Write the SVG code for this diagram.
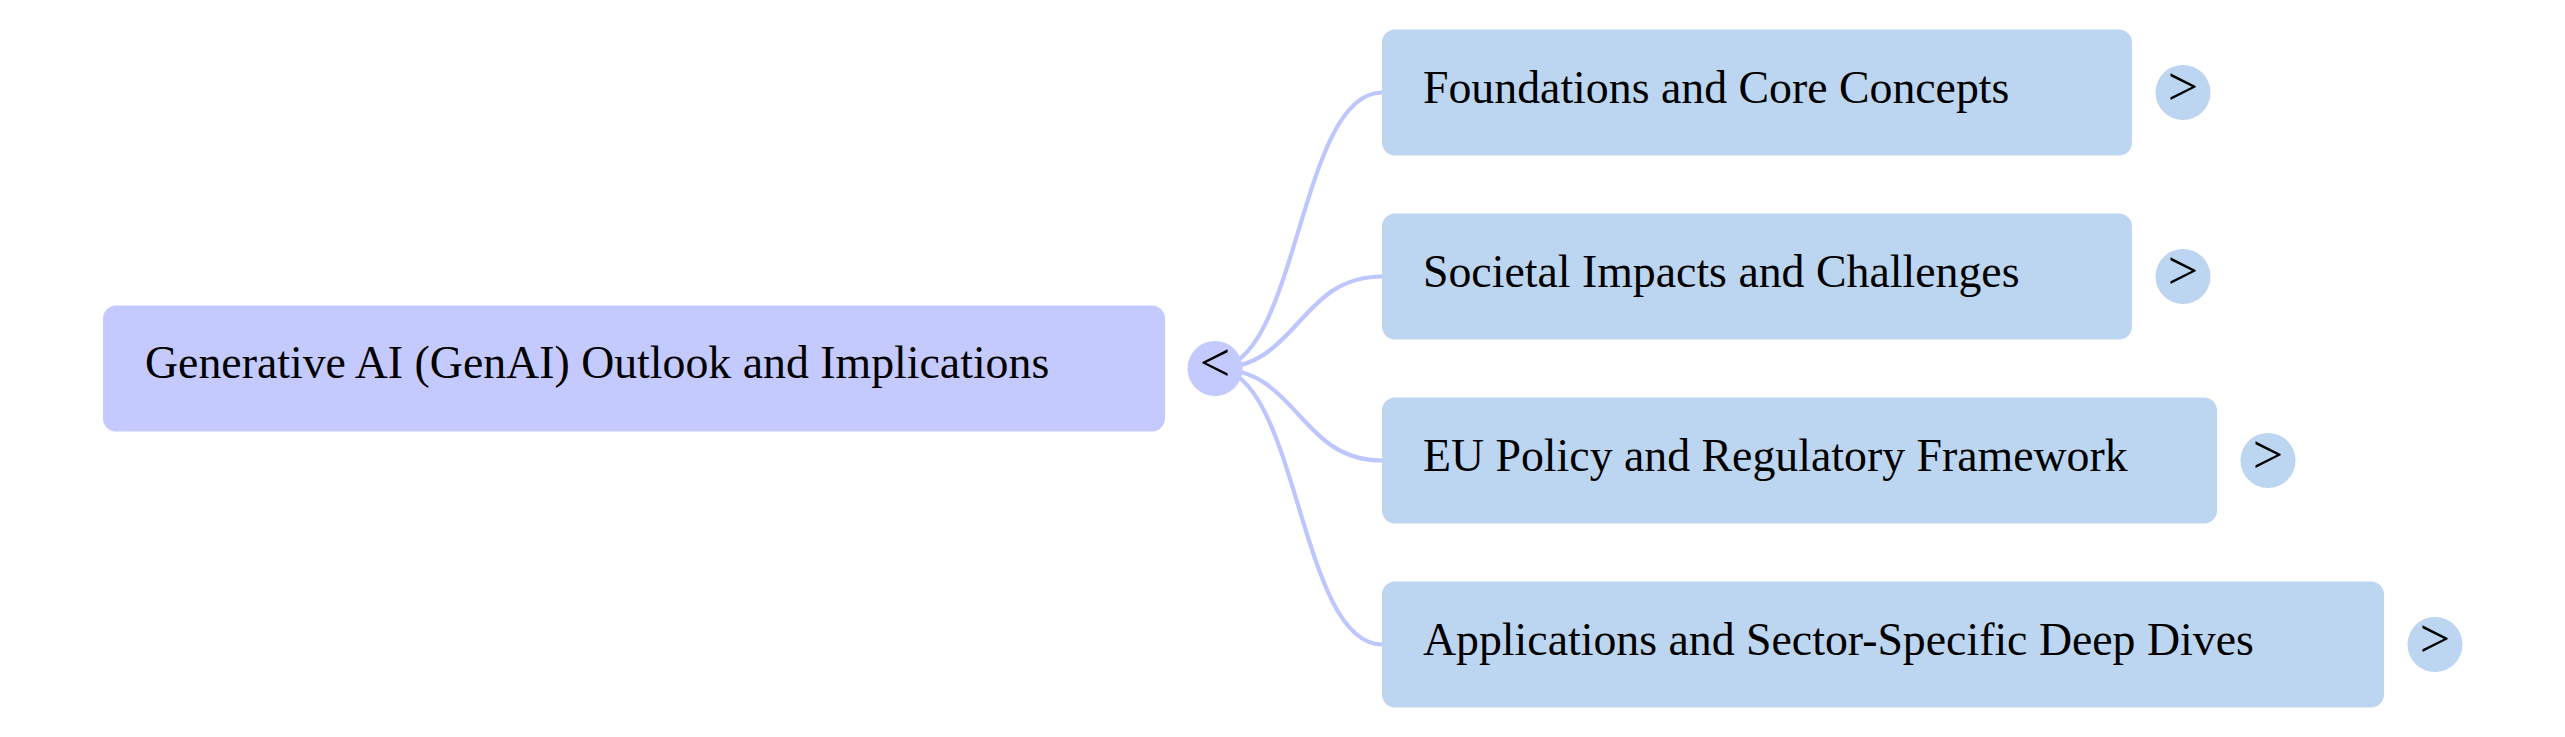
<svg xmlns="http://www.w3.org/2000/svg" width="2565" height="737" viewBox="0 0 2565 737">
<style>
.root rect, .root circle { fill: #c4cafe; }
.child rect, .child circle { fill: #bcd5f0; }
text { font-family: "Liberation Serif", "Times New Roman", serif; font-size: 45.8px; fill: #000; }
text.tog { text-anchor: middle; font-size: 54px; }
#connectors path { fill: none; stroke: #bec6fe; stroke-width: 4.2; }
</style>
<rect width="2565" height="737" fill="#fff"/>
<g id="connectors">
<path d="M1215,368.5 C1298.5,368.5 1298.5,92.5 1382,92.5"/>
<path d="M1215,368.5 C1298.5,368.5 1298.5,276.5 1382,276.5"/>
<path d="M1215,368.5 C1298.5,368.5 1298.5,460.5 1382,460.5"/>
<path d="M1215,368.5 C1298.5,368.5 1298.5,644.5 1382,644.5"/>
</g>
<g id="root" class="root">
<rect x="103" y="305.5" width="1062" height="126" rx="13"/>
<text x="145" y="378">Generative AI (GenAI) Outlook and Implications</text>
<circle cx="1215" cy="368.5" r="27.5"/>
<text class="tog" x="1215" y="381">&lt;</text>
</g>
<g id="node1" class="child">
<rect x="1382" y="29.5" width="750" height="126" rx="13"/>
<text x="1423" y="102.5">Foundations and Core Concepts</text>
<circle cx="2183" cy="92.5" r="27.5"/>
<text class="tog" x="2183" y="105">&gt;</text>
</g>
<g id="node2" class="child">
<rect x="1382" y="213.5" width="750" height="126" rx="13"/>
<text x="1423" y="286.5">Societal Impacts and Challenges</text>
<circle cx="2183" cy="276.5" r="27.5"/>
<text class="tog" x="2183" y="289">&gt;</text>
</g>
<g id="node3" class="child">
<rect x="1382" y="397.5" width="835" height="126" rx="13"/>
<text x="1423" y="470.5">EU Policy and Regulatory Framework</text>
<circle cx="2268" cy="460.5" r="27.5"/>
<text class="tog" x="2268" y="473">&gt;</text>
</g>
<g id="node4" class="child">
<rect x="1382" y="581.5" width="1002" height="126" rx="13"/>
<text x="1423" y="654.5">Applications and Sector-Specific Deep Dives</text>
<circle cx="2435" cy="644.5" r="27.5"/>
<text class="tog" x="2435" y="657">&gt;</text>
</g>
</svg>
